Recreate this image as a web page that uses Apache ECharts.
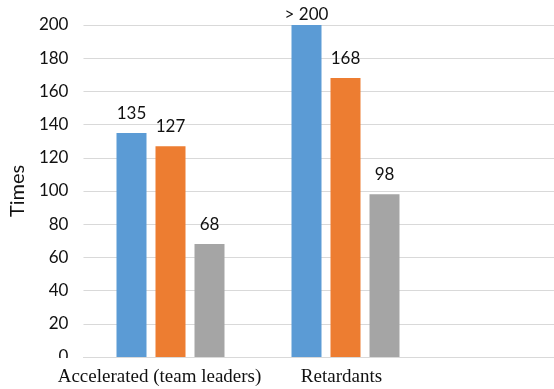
<!DOCTYPE html>
<html><head><meta charset="utf-8">
<script src="https://cdn.jsdelivr.net/npm/echarts@6/dist/echarts.min.js"></script>
<style>html,body{margin:0;padding:0;background:#fff}#c{width:554px;height:389px}</style>
</head><body><div id="c"></div>
<script>
const categories = ["Accelerated (team leaders)", "Retardants"];
const series1 = [135, 200];
const series2 = [127, 168];
const series3 = [68, 98];
const series1Labels = ["135", "> 200"];
const yTicks = [0, 20, 40, 60, 80, 100, 120, 140, 160, 180, 200];

const chart = echarts.init(document.getElementById('c'), null, {renderer: 'canvas'});
const sans = 'Lato, "Noto Sans", sans-serif';
const lblFont = {fontFamily: sans, fontSize: 17, color: '#111'};
const catPad = [[0, 22, 0, 0], [0, 8, 0, 0]];
function mk(name, data, color, labels) {
  return {
    name, type: 'bar', xAxisIndex: 1, yAxisIndex: 1,
    data: data.map((v, i) => ({
      value: v,
      label: (labels && labels[i].startsWith('>')) ? {distance: 2} : undefined
    })),
    barWidth: 30, barGap: '30%',
    itemStyle: {color},
    label: {show: true, position: 'top', distance: 11, ...lblFont,
      formatter: p => labels ? labels[p.dataIndex] : String(p.value)}
  };
}
const ymin = yTicks[0], ymax = yTicks[yTicks.length - 1];
chart.setOption({
  animation: false,
  grid: [
    {left: 80, right: 0, top: 25, bottom: 32},
    {left: 83, width: 350, top: 25, bottom: 32}
  ],
  xAxis: [
    {type: 'value', gridIndex: 0, min: 0, max: 1,
     axisLine: {show: true, onZero: false, lineStyle: {color: '#d9d9d9', width: 1}},
     axisTick: {show: false}, axisLabel: {show: false}, splitLine: {show: false}},
    {type: 'category', gridIndex: 1,
     data: categories.map((c, i) => ({value: c, textStyle: {padding: catPad[i]}})),
     axisLine: {show: false}, axisTick: {show: false},
     axisLabel: {interval: 0, fontFamily: '"Liberation Serif", "Times New Roman", serif', fontSize: 19, color: '#111', margin: 11}}
  ],
  yAxis: [
    {type: 'value', gridIndex: 0, min: ymin, max: ymax, interval: 20,
     name: 'Times', nameLocation: 'middle', nameGap: 53, nameRotate: 90,
     nameTextStyle: {fontFamily: sans, fontSize: 20, color: '#111'},
     axisLine: {show: false}, axisTick: {show: false},
     splitLine: {lineStyle: {color: '#d9d9d9', width: 1}},
     axisLabel: {...lblFont, margin: 15}},
    {type: 'value', gridIndex: 1, min: ymin, max: ymax, interval: 20,
     axisLine: {show: false}, axisTick: {show: false}, axisLabel: {show: false}, splitLine: {show: false}}
  ],
  graphic: [{type: 'rect', z: 100, shape: {x: 40, y: 358, width: 38, height: 10}, style: {fill: '#fff'}}],
  series: [
    mk('S1', series1, '#5b9bd5', series1Labels),
    mk('S2', series2, '#ed7d31'),
    mk('S3', series3, '#a5a5a5')
  ]
});
</script></body></html>
